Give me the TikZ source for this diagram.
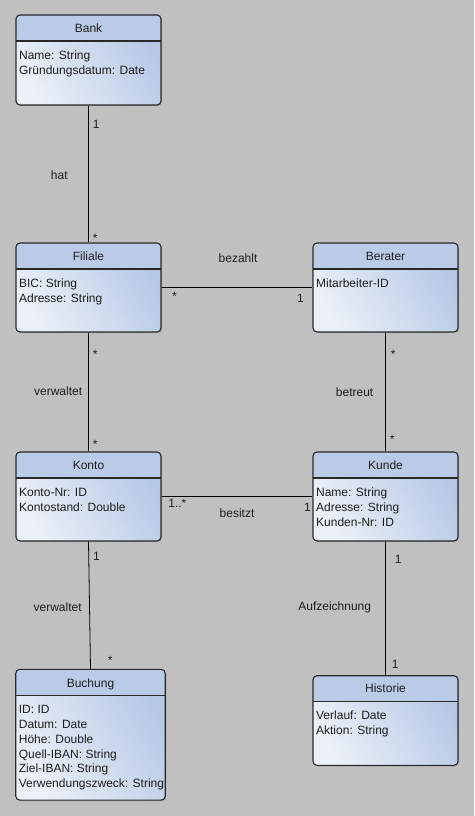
\documentclass[tikz,border=0pt]{standalone}
\usepackage{fontspec}
\setmainfont{Liberation Sans}
\usetikzlibrary{positioning,shadows}

\definecolor{canvas}{RGB}{192,192,192}
\definecolor{headfill}{RGB}{185,203,231}
\definecolor{bodylight}{RGB}{236,240,248}
\definecolor{bodyblue}{RGB}{181,200,230}
\definecolor{boxline}{RGB}{40,40,40}
\definecolor{ink}{RGB}{30,30,30}

\tikzset{
  classbox/.style={draw=boxline, line width=1.1pt, rounded corners=4pt,
    minimum width=145pt, left color=bodylight, right color=bodyblue, shading angle=120,
    drop shadow={shadow xshift=1.2pt, shadow yshift=-1.2pt, opacity=0.35},
    path picture={
      \fill[headfill] (path picture bounding box.north west) rectangle ([yshift=-26pt]path picture bounding box.north east);
      \draw[boxline, line width=1.1pt] ([yshift=-26pt]path picture bounding box.north west) -- ([yshift=-26pt]path picture bounding box.north east);
    }},
  classname/.style={anchor=base, inner sep=0pt, text=ink, font=\fontsize{12}{14.8}\selectfont},
  attrs/.style={anchor=north west, inner sep=0pt, align=left, text=ink, font=\fontsize{12}{14.8}\selectfont},
  mult/.style={inner sep=0pt, text=ink, font=\fontsize{12}{14.8}\selectfont},
  assoc/.style={draw=black, line width=0.8pt}
}

\begin{document}
\begin{tikzpicture}[x=1pt,y=-1pt]
\useasboundingbox[fill=canvas] (0,0) rectangle (474,816);
%classes
\path (88.5,60) node[classbox, minimum height=90pt] (bank) {}
	(88.5,287.5) node[classbox, minimum height=89pt] (filiale) {}
	(385.5,287.5) node[classbox, minimum height=89pt] (berater) {}
	(88.5,496.5) node[classbox, minimum height=89pt] (konto) {}
	(385.5,496.5) node[classbox, minimum height=89pt] (kunde) {}
	(90.5,734.7) node[classbox, minimum width=149.5pt, minimum height=130.7pt] (buchung) {}
	(385.5,720.5) node[classbox, minimum height=89.6pt] (historie) {};
%names
\path ([yshift=-18.3pt]bank.north) node[classname] {Bank}
	([yshift=-18.3pt]filiale.north) node[classname] {Filiale}
	([yshift=-18.3pt]berater.north) node[classname] {Berater}
	([yshift=-18.3pt]konto.north) node[classname] {Konto}
	([yshift=-18.3pt]kunde.north) node[classname] {Kunde}
	([yshift=-19pt]buchung.north) node[classname] {Buchung}
	([yshift=-17.8pt]historie.north) node[classname] {Historie};
%attributes
\path ([xshift=3.5pt,yshift=-36.5pt]bank.north west) node[attrs] {Name: String\\Gründungsdatum: Date}
	([xshift=3.5pt,yshift=-36pt]filiale.north west) node[attrs] {BIC: String\\Adresse: String}
	([xshift=3.5pt,yshift=-36pt]berater.north west) node[attrs] {Mitarbeiter-ID}
	([xshift=3.5pt,yshift=-36.5pt]konto.north west) node[attrs] {Konto-Nr: ID\\Kontostand: Double}
	([xshift=3.5pt,yshift=-36.5pt]kunde.north west) node[attrs] {Name: String\\Adresse: String\\Kunden-Nr: ID}
	([xshift=3.5pt,yshift=-36.5pt]buchung.north west) node[attrs] {ID: ID\\Datum: Date\\Höhe: Double\\Quell-IBAN: String\\Ziel-IBAN: String\\Verwendungszweck: String}
	([xshift=3.5pt,yshift=-35.5pt]historie.north west) node[attrs] {Verlauf: Date\\Aktion: String};
%associations
\draw[assoc] (bank.south) -- (filiale.north)
	node[mult, pos=0.138, right=4pt] {1}
	node[mult, pos=0.968, right=4pt] {*}
	node[mult, pos=0.507, left=20.5pt] {hat};
\draw[assoc] (filiale.east) -- (berater.west)
	node[mult, pos=0.086, below=4.4pt] {*}
	node[mult, pos=0.92, below=6.7pt] {1}
	node[mult, pos=0.507, above=24pt] {bezahlt};
\draw[assoc] (filiale.south) -- (konto.north)
	node[mult, pos=0.18, right=4pt] {*}
	node[mult, pos=0.939, right=4pt] {*}
	node[mult, pos=0.49, left=6pt] {verwaltet};
\draw[assoc] (berater.south) -- (kunde.north)
	node[mult, pos=0.18, right=5pt] {*}
	node[mult, pos=0.897, right=4pt] {*}
	node[mult, pos=0.5, left=11.8pt] {betreut};
\draw[assoc] (konto.east) -- (kunde.west)
	node[mult, pos=0.105, below=2.7pt] {1..*}
	node[mult, pos=0.967, below=6.7pt] {1}
	node[mult, pos=0.5, below=11.4pt] {besitzt};
\draw[assoc] (konto.south) -- (buchung.north)
	node[mult, pos=0.117, right=4pt] {1}
	node[mult, pos=0.93, right=17pt] {*}
	node[mult, pos=0.516, left=7.5pt] {verwaltet};
\draw[assoc] (kunde.south) -- (historie.north)
	node[mult, pos=0.133, right=9pt] {1}
	node[mult, pos=0.918, right=6pt] {1}
	node[mult, pos=0.49, left=14pt] {Aufzeichnung};
\end{tikzpicture}
\end{document}
